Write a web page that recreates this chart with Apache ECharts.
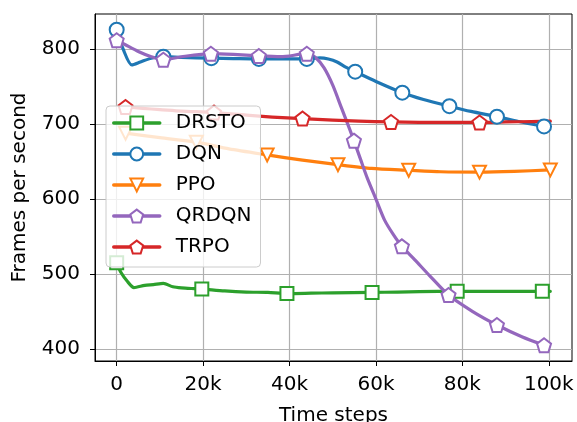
<!DOCTYPE html>
<html>
<head>
<meta charset="utf-8">
<script src="https://cdn.jsdelivr.net/npm/echarts@6/dist/echarts.min.js"></script>
<style>html,body{margin:0;padding:0;background:#fff}#c{width:577px;height:422px}</style>
</head>
<body>
<div id="c"></div>
<script>
// ---- data ----
const xTicks = [0, 20000, 40000, 60000, 80000, 100000];
const yTicks = [400, 500, 600, 700, 800];

const drstoX = [0, 1000, 2500, 4000, 6500, 8500, 10800, 13000, 15000, 18000, 19700, 25000, 30000, 35000, 39400, 45000, 50000, 59100, 65000, 70000, 78800, 85000, 90000, 98500, 100350];
const drstoY = [515, 502, 490, 482, 485, 486, 487.5, 483, 481.5, 480.5, 480, 477.5, 476, 475.5, 474, 474.5, 475, 475.5, 476, 476.5, 477, 477, 477, 477, 477];
const drstoMarks = [0, 10, 14, 17, 20, 23];

const dqnX = [0, 1500, 3500, 5500, 8000, 10800, 15000, 21900, 27000, 32900, 38000, 44000, 47000, 49000, 51000, 53000, 55200, 60000, 66100, 71000, 77000, 82000, 88000, 93000, 98900];
const dqnY = [826, 800, 779, 783, 788, 790, 789, 788, 787.5, 787, 787, 787, 788.5, 787, 783, 776, 770, 757, 742, 733, 724, 717, 710, 703.5, 697];
const dqnMarks = [0, 5, 7, 9, 11, 16, 18, 20, 22, 24];

const ppoX = [2048, 10000, 18432, 26000, 34816, 43000, 51200, 59000, 67584, 75000, 83968, 92000, 100352];
const ppoY = [688, 682, 676, 667, 659, 652, 646, 641, 638.5, 636.5, 636, 637, 639];
const ppoMarks = [0, 2, 4, 6, 8, 10, 12];

const qrdqnX = [0, 2000, 5000, 8000, 10800, 15000, 21800, 27000, 32900, 38000, 44000, 46000, 48000, 50000, 52000, 54000, 54900, 56500, 58000, 60000, 62000, 64000, 66000, 69000, 72400, 76800, 82400, 88000, 93900, 98900];
const qrdqnY = [812, 806, 797, 790, 786, 790, 794, 793, 791, 790, 794, 789, 775, 752, 722, 692, 678, 652, 628, 600, 572, 553, 537, 519, 498, 472, 450, 432, 416, 405];
const qrdqnMarks = [0, 4, 6, 8, 10, 16, 22, 25, 27, 29];

const trpoX = [2048, 6000, 10000, 15000, 22528, 30000, 36000, 43008, 50000, 56000, 63488, 70000, 77000, 83968, 90000, 96000, 100352];
const trpoY = [723, 721, 719.5, 717.5, 715.5, 712, 709.5, 707.5, 705.5, 704, 703, 702.5, 702.3, 702.3, 703, 703.5, 704];
const trpoMarks = [0, 4, 7, 10, 13];

// ---- chart ----
const FONT = 'DejaVu Sans';
const pentagon = 'path://M0,-1 L0.951,-0.309 L0.588,0.809 L-0.588,0.809 L-0.951,-0.309 Z';

function build(xs, ys, marks) {
  return xs.map((x, i) => marks.includes(i) ? { value: [x, ys[i]] } : { value: [x, ys[i]], symbol: 'none' });
}
function mk(name, color, xs, ys, marks, symbol, size, rot) {
  return {
    name, type: 'line', smooth: 0.25, showAllSymbol: true,
    symbol, symbolSize: size, symbolRotate: rot || 0,
    data: build(xs, ys, marks),
    lineStyle: { color, width: 3.2, cap: 'round', join: 'round' },
    itemStyle: { color: '#ffffff', borderColor: color, borderWidth: 2 },
    emphasis: { disabled: true }
  };
}

const chart = echarts.init(document.getElementById('c'), null, { renderer: 'canvas' });
chart.setOption({
  animation: false,
  backgroundColor: '#ffffff',
  textStyle: { fontFamily: FONT },
  grid: { left: 95, right: 5, top: 14, bottom: 61, containLabel: false, outerBoundsMode: 'none',
          show: true, borderColor: '#000', borderWidth: 1, backgroundColor: 'transparent' },
  xAxis: {
    type: 'value', min: -5018, max: 105370, splitNumber: 5, minInterval: 20000, maxInterval: 20000,
    name: 'Time steps', nameLocation: 'middle', nameGap: 45,
    nameTextStyle: { fontSize: 20, color: '#000', fontFamily: FONT },
    axisLine: { show: true, onZero: false, lineStyle: { color: '#000', width: 1 } },
    axisTick: { show: true, length: 5, inside: false, lineStyle: { color: '#000', width: 1 }, customValues: xTicks },
    axisLabel: { fontSize: 20, color: '#000', fontFamily: FONT, margin: 14, customValues: xTicks,
                 formatter: v => v === 0 ? '0' : (v / 1000) + 'k' },
    splitLine: { show: true, lineStyle: { color: '#b0b0b0', width: 1.2 } }
  },
  yAxis: {
    type: 'value', min: 384, max: 847, splitNumber: 5, minInterval: 100, maxInterval: 100,
    name: 'Frames per second', nameLocation: 'middle', nameGap: 65, nameRotate: 90,
    nameTextStyle: { fontSize: 20, color: '#000', fontFamily: FONT },
    axisLine: { show: true, onZero: false, lineStyle: { color: '#000', width: 1 } },
    axisTick: { show: true, length: 5, inside: false, lineStyle: { color: '#000', width: 1 }, customValues: yTicks },
    axisLabel: { fontSize: 20, color: '#000', fontFamily: FONT, margin: 15, customValues: yTicks },
    splitLine: { show: true, lineStyle: { color: '#b0b0b0', width: 1.2 } }
  },
  legend: {
    orient: 'vertical', left: 106, top: 106,
    padding: [7, 9, 10, 6], itemWidth: 46, itemHeight: 16, itemGap: 11,
    backgroundColor: 'rgba(255,255,255,0.8)', borderColor: '#cccccc', borderWidth: 1, borderRadius: 4,
    lineStyle: { width: 3.5 },
    formatter: n => '{t|' + n + '}',
    textStyle: { fontSize: 20, color: '#000', fontFamily: FONT,
                 rich: { t: { fontSize: 20, color: '#000', fontFamily: FONT, padding: [0, 0, 0, 11] } } },
    data: ['DRSTO', 'DQN', 'PPO', 'QRDQN', 'TRPO']
  },
  series: [
    mk('DRSTO', '#2ca02c', drstoX, drstoY, drstoMarks, 'rect', 13),
    mk('DQN', '#1f77b4', dqnX, dqnY, dqnMarks, 'circle', 14),
    mk('PPO', '#ff7f0e', ppoX, ppoY, ppoMarks, 'triangle', 13, 180),
    mk('QRDQN', '#9467bd', qrdqnX, qrdqnY, qrdqnMarks, pentagon, 14),
    mk('TRPO', '#d62728', trpoX, trpoY, trpoMarks, pentagon, 14)
  ]
});
</script>
</body>
</html>
